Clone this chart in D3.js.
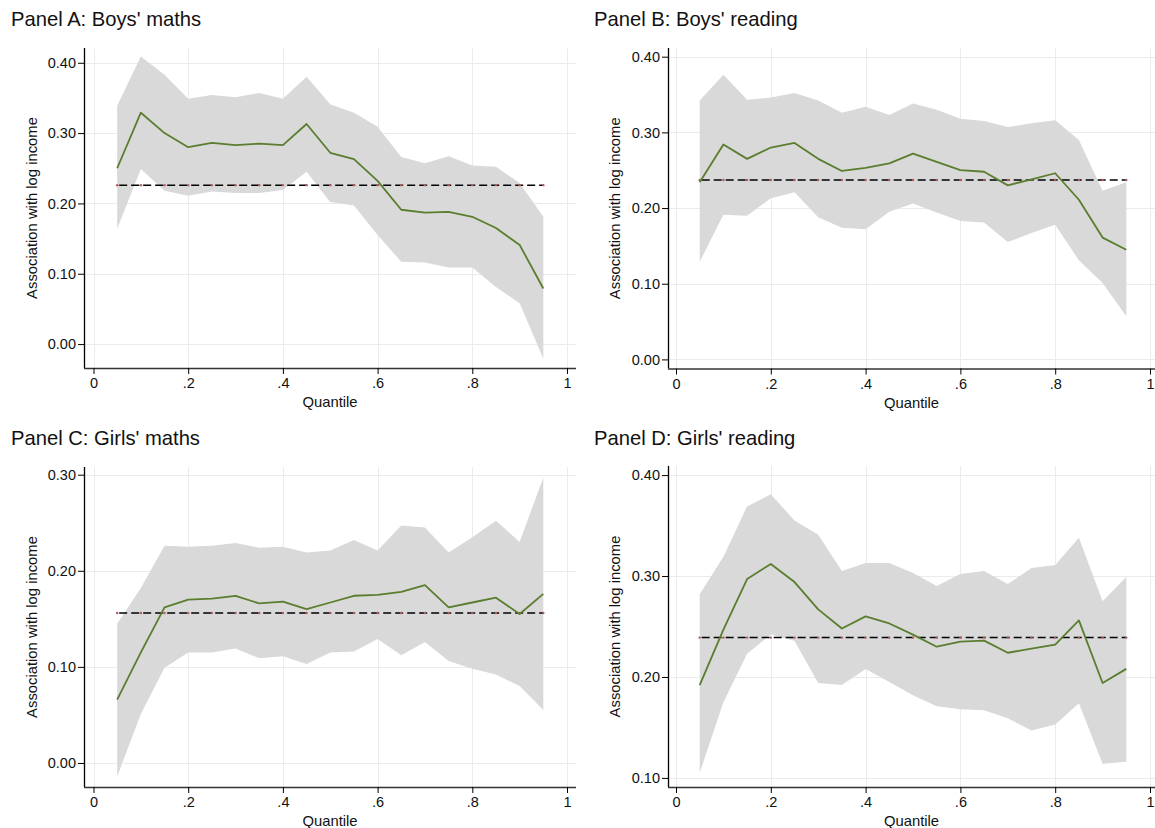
<!DOCTYPE html>
<html>
<head>
<meta charset="utf-8">
<script src="https://cdn.jsdelivr.net/npm/d3@7"></script>
<style>
  html, body { margin: 0; padding: 0; background: #fff; }
  svg { display: block; font-family: "Liberation Sans", Arial, Helvetica, sans-serif; }
</style>
</head>
<body>
<svg id="chart" width="1155" height="828"></svg>
<script>
// Quantile regression estimates of the income gradient, by quantile
const quantiles = [0.05, 0.10, 0.15, 0.20, 0.25, 0.30, 0.35, 0.40, 0.45, 0.50,
                   0.55, 0.60, 0.65, 0.70, 0.75, 0.80, 0.85, 0.90, 0.95];

// Panel A: boys' maths
const boysMathsEst = [0.250, 0.329, 0.300, 0.280, 0.286, 0.283, 0.285, 0.283, 0.313, 0.272,
                      0.263, 0.232, 0.191, 0.187, 0.188, 0.181, 0.165, 0.141, 0.079];
const boysMathsLo  = [0.164, 0.249, 0.218, 0.211, 0.217, 0.215, 0.215, 0.219, 0.245, 0.202,
                      0.197, 0.155, 0.117, 0.116, 0.109, 0.109, 0.081, 0.058, -0.021];
const boysMathsHi  = [0.339, 0.409, 0.383, 0.349, 0.354, 0.351, 0.357, 0.349, 0.380, 0.341,
                      0.329, 0.309, 0.266, 0.257, 0.267, 0.254, 0.252, 0.229, 0.181];
const boysMathsOls = 0.226;

// Panel B: boys' reading
const boysReadingEst = [0.234, 0.284, 0.265, 0.280, 0.286, 0.265, 0.249, 0.253, 0.259, 0.272,
                        0.261, 0.250, 0.248, 0.230, 0.238, 0.246, 0.211, 0.161, 0.145];
const boysReadingLo  = [0.129, 0.191, 0.190, 0.213, 0.221, 0.188, 0.174, 0.172, 0.195, 0.206,
                        0.194, 0.183, 0.181, 0.155, 0.167, 0.178, 0.131, 0.101, 0.057];
const boysReadingHi  = [0.342, 0.376, 0.343, 0.346, 0.352, 0.342, 0.326, 0.334, 0.323, 0.338,
                        0.330, 0.318, 0.315, 0.307, 0.312, 0.316, 0.290, 0.223, 0.234];
const boysReadingOls = 0.237;

// Panel C: girls' maths
const girlsMathsEst = [0.066, 0.115, 0.162, 0.170, 0.171, 0.174, 0.166, 0.168, 0.160, 0.167,
                       0.174, 0.175, 0.178, 0.185, 0.162, 0.167, 0.172, 0.155, 0.176];
const girlsMathsLo  = [-0.014, 0.051, 0.099, 0.115, 0.115, 0.119, 0.109, 0.111, 0.103, 0.115,
                       0.116, 0.129, 0.112, 0.126, 0.106, 0.098, 0.092, 0.080, 0.055];
const girlsMathsHi  = [0.145, 0.182, 0.226, 0.225, 0.226, 0.229, 0.224, 0.225, 0.219, 0.221,
                       0.232, 0.221, 0.247, 0.245, 0.219, 0.235, 0.252, 0.230, 0.297];
const girlsMathsOls = 0.156;

// Panel D: girls' reading
const girlsReadingEst = [0.192, 0.247, 0.297, 0.312, 0.294, 0.267, 0.248, 0.260, 0.253, 0.242,
                         0.230, 0.235, 0.236, 0.224, 0.228, 0.232, 0.256, 0.194, 0.208];
const girlsReadingLo  = [0.105, 0.175, 0.223, 0.242, 0.236, 0.194, 0.192, 0.208, 0.195, 0.182,
                         0.171, 0.168, 0.167, 0.159, 0.147, 0.153, 0.174, 0.114, 0.116];
const girlsReadingHi  = [0.282, 0.319, 0.369, 0.381, 0.355, 0.341, 0.305, 0.313, 0.313, 0.303,
                         0.290, 0.302, 0.305, 0.292, 0.308, 0.311, 0.338, 0.275, 0.299];
const girlsReadingOls = 0.239;

// Axis ticks
const xTicks = [0, 0.2, 0.4, 0.6, 0.8, 1];
const xTickLabels = ["0", ".2", ".4", ".6", ".8", "1"];
const yTicksA = [0.00, 0.10, 0.20, 0.30, 0.40];
const yTicksB = [0.00, 0.10, 0.20, 0.30, 0.40];
const yTicksC = [0.00, 0.10, 0.20, 0.30];
const yTicksD = [0.10, 0.20, 0.30, 0.40];

const titles = ["Panel A: Boys' maths", "Panel B: Boys' reading",
                "Panel C: Girls' maths", "Panel D: Girls' reading"];
const yTitle = "Association with log income";
const xTitle = "Quantile";

// Panel layout (pixel frame of each plot region)
const panels = [
  { title: titles[0], est: boysMathsEst, lo: boysMathsLo, hi: boysMathsHi, ols: boysMathsOls,
    yTicks: yTicksA, yDomain: [-0.034, 0.421],
    frame: { left: 84, right: 576, top: 48, bottom: 368, x0: 93.5, x1: 567, titleX: 11, titleY: 26, yTitleX: 33 } },
  { title: titles[1], est: boysReadingEst, lo: boysReadingLo, hi: boysReadingHi, ols: boysReadingOls,
    yTicks: yTicksB, yDomain: [-0.012, 0.4115],
    frame: { left: 668, right: 1155, top: 48, bottom: 368.5, x0: 676, x1: 1150, titleX: 594, titleY: 26, yTitleX: 616 } },
  { title: titles[2], est: girlsMathsEst, lo: girlsMathsLo, hi: girlsMathsHi, ols: girlsMathsOls,
    yTicks: yTicksC, yDomain: [-0.025, 0.308],
    frame: { left: 84, right: 576, top: 467, bottom: 787, x0: 93.5, x1: 567, titleX: 11, titleY: 445, yTitleX: 33 } },
  { title: titles[3], est: girlsReadingEst, lo: girlsReadingLo, hi: girlsReadingHi, ols: girlsReadingOls,
    yTicks: yTicksD, yDomain: [0.091, 0.409],
    frame: { left: 668, right: 1155, top: 466, bottom: 787, x0: 676, x1: 1150, titleX: 594, titleY: 445, yTitleX: 616 } }
];

const svg = d3.select("#chart");
const yFmt = d3.format(".2f");
const tickFont = 14.5;
const axisTitleFont = 14.8;

panels.forEach(p => {
  const f = p.frame;
  const x = d3.scaleLinear().domain([0, 1]).range([f.x0, f.x1]);
  const y = d3.scaleLinear().domain(p.yDomain).range([f.bottom, f.top]);
  const g = svg.append("g");

  // Title
  g.append("text")
    .attr("x", f.titleX).attr("y", f.titleY)
    .attr("font-size", 20.2).attr("fill", "#111")
    .text(p.title);

  // Grid lines
  g.append("g").selectAll("line").data(xTicks).join("line")
    .attr("x1", d => Math.round(x(d)) + 0.5).attr("x2", d => Math.round(x(d)) + 0.5)
    .attr("y1", f.top).attr("y2", f.bottom)
    .attr("stroke", "#ebebeb").attr("stroke-width", 1);
  g.append("g").selectAll("line").data(p.yTicks).join("line")
    .attr("x1", f.left).attr("x2", f.right)
    .attr("y1", d => Math.round(y(d)) + 0.5).attr("y2", d => Math.round(y(d)) + 0.5)
    .attr("stroke", "#ebebeb").attr("stroke-width", 1);

  // Confidence band
  const area = d3.area()
    .x((d, i) => x(quantiles[i]))
    .y0((d, i) => y(p.lo[i]))
    .y1((d, i) => y(p.hi[i]));
  g.append("path").datum(p.est).attr("d", area).attr("fill", "#d9d9d9");

  // OLS reference: dashed line with a marker at each quantile
  const olsLine = d3.line().x(d => x(d)).y(() => y(p.ols));
  g.append("path").datum(quantiles).attr("d", olsLine)
    .attr("fill", "none").attr("stroke", "#000").attr("stroke-width", 1.5)
    .attr("stroke-dasharray", "8,4").attr("stroke-dashoffset", 10);
  g.append("g").selectAll("circle").data(quantiles).join("circle")
    .attr("cx", d => x(d)).attr("cy", y(p.ols)).attr("r", 1.2)
    .attr("fill", "#b85a5a");

  // Quantile estimates
  const line = d3.line().x((d, i) => x(quantiles[i])).y(d => y(d));
  g.append("path").datum(p.est).attr("d", line)
    .attr("fill", "none").attr("stroke", "#5a7d2e").attr("stroke-width", 1.8)
    .attr("stroke-linejoin", "round");

  // Y axis
  const yAxis = g.append("g").attr("transform", `translate(${f.left},0)`)
    .call(d3.axisLeft(y).tickValues(p.yTicks).tickFormat(yFmt).tickSize(6).tickPadding(2));
  yAxis.attr("font-family", null);
  yAxis.select(".domain").attr("d", `M0.5,${f.top}V${f.bottom}`).attr("stroke", "#000").attr("stroke-width", 1.3);
  yAxis.selectAll(".tick line").attr("stroke", "#000");
  yAxis.selectAll(".tick text").attr("font-size", tickFont).attr("fill", "#111");

  // X axis
  const xAxis = g.append("g").attr("transform", `translate(0,${f.bottom})`)
    .call(d3.axisBottom(x).tickValues(xTicks).tickFormat((d, i) => xTickLabels[i]).tickSize(6).tickPadding(4));
  xAxis.attr("font-family", null);
  xAxis.select(".domain").attr("d", `M${f.left},0.5H${f.right}`).attr("stroke", "#333").attr("stroke-width", 1.3);
  xAxis.selectAll(".tick line").attr("stroke", "#000");
  xAxis.selectAll(".tick text").attr("font-size", tickFont).attr("fill", "#111");

  // Axis titles
  g.append("text")
    .attr("x", (f.left + f.right) / 2).attr("y", f.bottom + 39)
    .attr("text-anchor", "middle").attr("font-size", axisTitleFont).attr("fill", "#111")
    .text(xTitle);
  g.append("text")
    .attr("transform", `translate(${f.yTitleX},${(f.top + f.bottom) / 2}) rotate(-90)`)
    .attr("text-anchor", "middle").attr("dominant-baseline", "middle")
    .attr("font-size", axisTitleFont).attr("fill", "#111")
    .text(yTitle);
});
</script>
</body>
</html>
